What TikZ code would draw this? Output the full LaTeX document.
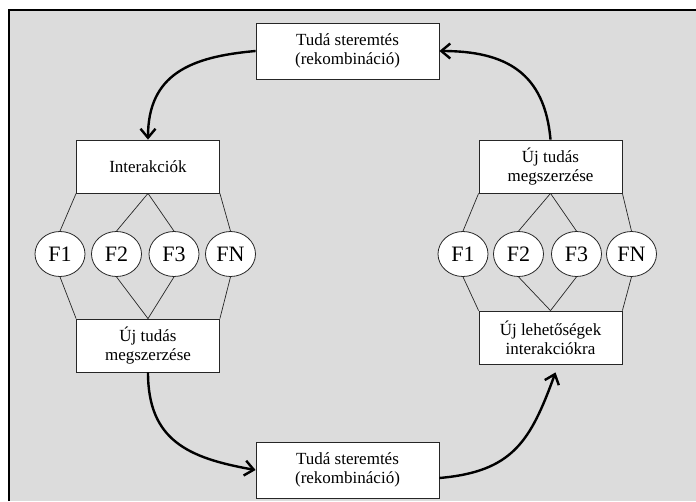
\documentclass[tikz,border=0pt]{standalone}
\usepackage{fontspec}
\setmainfont{Liberation Serif}
\usetikzlibrary{shapes.geometric,arrows.meta}
\definecolor{hatter}{HTML}{DCDCDC}
\begin{document}
\begin{tikzpicture}[x=1pt,y=1pt,
	doboz/.style={draw=black!85, fill=white, line width=0.8pt, align=center, inner sep=0pt, font=\fontsize{17}{19}\selectfont, minimum width=143pt, minimum height=53pt},
	tdoboz/.style={doboz, minimum width=183pt, minimum height=56pt},
	kor/.style={ellipse, draw=black!85, fill=white, line width=0.8pt, inner sep=0pt, minimum width=50pt, minimum height=45pt, font=\fontsize{22}{24}\selectfont},
	vonal/.style={draw=black!85, line width=0.7pt},
	nyil/.style={line width=2.4pt, -{Straight Barb[length=9pt,width=15pt]}, looseness=1.2}]

			\useasboundingbox (0,0) rectangle (696,-501);
			\fill[hatter] (9,-10) rectangle (696,-501);
			\draw[line width=1.2pt] (9,-501) -- (9,-10) -- (696,-10);

			\node[tdoboz] (teremtA) at (347.5,-51) {Tudá steremtés\\(rekombináció)};
			\node[doboz] (interakc) at (148,-166.5) {Interakciók};
			\node[doboz] (ujtudasB) at (148,-345.5) {Új tudás\\megszerzése};
			\node[tdoboz] (teremtB) at (347.5,-470) {Tudá steremtés\\(rekombináció)};
			\node[doboz] (ujtudasJ) at (550.5,-166.5) {Új tudás\\megszerzése};
			\node[doboz] (lehet) at (550.5,-337.5) {Új lehetőségek\\interakciókra};

			\node[kor] (bf1) at (60,-254) {F1};
			\node[kor] (bf2) at (116.5,-254) {F2};
			\node[kor] (bf3) at (174,-254) {F3};
			\node[kor] (bfn) at (230.5,-254) {FN};
			\node[kor] (jf1) at (463,-254) {F1};
			\node[kor] (jf2) at (518.5,-254) {F2};
			\node[kor] (jf3) at (576.5,-254) {F3};
			\node[kor] (jfn) at (631.5,-254) {FN};

			\draw[vonal] (interakc.south west) -- (bf1.north);
			\draw[vonal] (interakc.south) -- (bf2.north);
			\draw[vonal] (interakc.south) -- (bf3.north);
			\draw[vonal] (interakc.south east) -- (bfn.north);
			\draw[vonal] (bf1.south) -- (ujtudasB.north west);
			\draw[vonal] (bf2.south) -- (ujtudasB.north);
			\draw[vonal] (bf3.south) -- (ujtudasB.north);
			\draw[vonal] (bfn.south) -- (ujtudasB.north east);

			\draw[vonal] (ujtudasJ.south west) -- (jf1.north);
			\draw[vonal] (ujtudasJ.south) -- (jf2.north);
			\draw[vonal] (ujtudasJ.south) -- (jf3.north);
			\draw[vonal] (ujtudasJ.south east) -- (jfn.north);
			\draw[vonal] (jf1.south) -- (lehet.north west);
			\draw[vonal] (jf2.south) -- (lehet.north);
			\draw[vonal] (jf3.south) -- (lehet.north);
			\draw[vonal] (jfn.south) -- (lehet.north east);

			\draw[nyil] (teremtA.west) to[out=185,in=90] (interakc.north);
			\draw[nyil] (ujtudasJ.north) to[out=95,in=0] (teremtA.east);
			\draw[nyil] (ujtudasB.south) to[out=270,in=170] (teremtB.west);
			\draw[nyil] ([yshift=-8pt]teremtB.east) to[out=5,in=250] ([xshift=5pt,yshift=-8pt]lehet.south);

	\end{tikzpicture}
\end{document}
